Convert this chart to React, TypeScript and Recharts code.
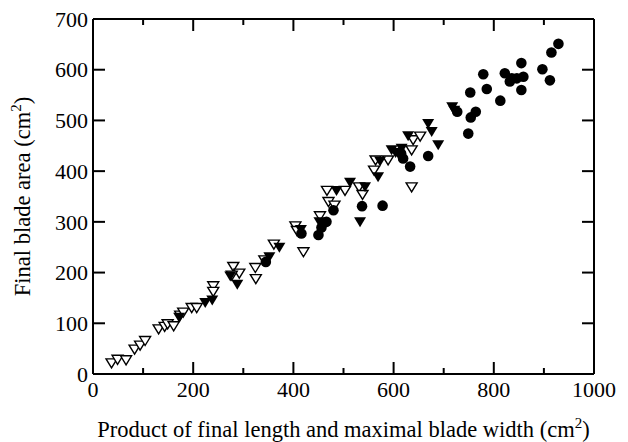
import React from "react";
import { ScatterChart, Scatter, XAxis, YAxis, Label } from "recharts";

// [product of length x max width, final blade area]
const openTriangles = [
  [37, 22], [49, 29], [66, 28], [83, 49], [94, 57], [104, 66], [131, 89],
  [143, 94], [149, 99], [161, 95], [174, 116], [180, 122], [197, 131],
  [207, 131], [240, 174], [240, 163], [280, 212], [292, 199], [277, 195],
  [324, 210], [325, 188], [342, 225], [361, 256], [404, 292], [407, 283],
  [420, 241], [453, 312], [467, 362], [470, 340], [482, 333], [503, 362],
  [531, 369], [538, 354], [564, 422], [561, 402], [589, 422], [636, 442],
  [639, 462], [653, 469], [636, 369],
];

const filledTriangles = [
  [172, 112], [224, 141], [238, 146], [274, 193], [288, 177], [352, 231],
  [372, 250], [415, 285], [452, 300], [486, 362], [513, 378], [543, 369],
  [533, 300], [569, 389], [573, 420], [596, 442], [604, 437], [610, 435],
  [616, 445], [629, 470], [669, 494], [676, 478], [689, 452], [717, 527],
  [721, 520],
];

const filledCircles = [
  [345, 221], [416, 277], [450, 274], [456, 289], [466, 300], [480, 323],
  [537, 331], [578, 332], [615, 435], [619, 425], [633, 409], [669, 430],
  [727, 517], [749, 474], [754, 506], [764, 517], [753, 555], [779, 591],
  [786, 562], [813, 539], [822, 593], [832, 577], [836, 583], [846, 583],
  [859, 586], [855, 613], [855, 560], [897, 601], [912, 579], [915, 634],
  [929, 651],
];

const xTicks = [0, 100, 200, 300, 400, 500, 600, 700, 800, 900, 1000];
const yTicks = [0, 100, 200, 300, 400, 500, 600, 700];

const toPoints = (arr: number[][]) => arr.map(([x, y]) => ({ x, y }));

const FONT = "'Liberation Serif', 'Times New Roman', serif";
const TICK_FONT = 22;
const TITLE_FONT = 22.5;

const OpenTri = (props: any) => {
  const { cx, cy } = props;
  return (
    <polygon
      points={`${cx - 5.5},${cy - 4} ${cx + 5.5},${cy - 4} ${cx},${cy + 5}`}
      fill="#fff"
      stroke="#000"
      strokeWidth={1.4}
    />
  );
};

const FilledTri = (props: any) => {
  const { cx, cy } = props;
  return (
    <polygon
      points={`${cx - 6},${cy - 4.5} ${cx + 6},${cy - 4.5} ${cx},${cy + 5.5}`}
      fill="#000"
    />
  );
};

const Dot = (props: any) => {
  const { cx, cy } = props;
  return <circle cx={cx} cy={cy} r={5.3} fill="#000" />;
};

const BottomTick = (props: any) => {
  const { x, y, payload } = props;
  const major = payload.value % 200 === 0;
  return (
    <g>
      <line x1={x} x2={x} y1={y} y2={y - (major ? 12 : 6)} stroke="#000" strokeWidth={2} />
      {major && (
        <text x={x} y={y + 23} textAnchor="middle" fontSize={TICK_FONT} fontFamily={FONT} fill="#000">
          {payload.value}
        </text>
      )}
    </g>
  );
};

const TopTick = (props: any) => {
  const { x, y, payload } = props;
  const major = payload.value % 200 === 0;
  return <line x1={x} x2={x} y1={y} y2={y + (major ? 12 : 6)} stroke="#000" strokeWidth={2} />;
};

const LeftTick = (props: any) => {
  const { x, y, payload } = props;
  return (
    <g>
      <line x1={x} x2={x + 12} y1={y} y2={y} stroke="#000" strokeWidth={2} />
      <text x={x - 5} y={y} dy="0.35em" textAnchor="end" fontSize={TICK_FONT} fontFamily={FONT} fill="#000">
        {payload.value}
      </text>
    </g>
  );
};

const RightTick = (props: any) => {
  const { x, y } = props;
  return <line x1={x} x2={x - 12} y1={y} y2={y} stroke="#000" strokeWidth={2} />;
};

const XTitle = ({ viewBox }: any) => (
  <text
    x={viewBox.x + viewBox.width / 2}
    y={viewBox.y + 63}
    textAnchor="middle"
    fontSize={TITLE_FONT}
    fontFamily={FONT}
    fill="#000"
  >
    Product of final length and maximal blade width (cm
    <tspan dy={-9} fontSize={15}>2</tspan>
    <tspan dy={9}>)</tspan>
  </text>
);

const YTitle = ({ viewBox }: any) => {
  const cx = 22;
  const cy = viewBox.y + viewBox.height / 2;
  return (
    <text
      x={cx}
      y={cy}
      transform={`rotate(-90, ${cx}, ${cy})`}
      textAnchor="middle"
      dy="0.35em"
      fontSize={TITLE_FONT}
      fontFamily={FONT}
      fill="#000"
    >
      Final blade area (cm
      <tspan dy={-9} fontSize={15}>2</tspan>
      <tspan dy={9}>)</tspan>
    </text>
  );
};

export default function App() {
  const axisLine = { stroke: "#000", strokeWidth: 2 };
  return (
    <div style={{ position: "absolute", left: 0, top: 0, width: 628, height: 442, background: "#fff" }}>
      <ScatterChart width={628} height={442} margin={{ top: 18, right: 33, bottom: 0, left: 0 }}>
        <XAxis
          dataKey="x"
          type="number"
          domain={[0, 1000]}
          ticks={xTicks}
          interval={0}
          height={68}
          tickSize={0}
          tickMargin={0}
          tickLine={false}
          axisLine={axisLine}
          tick={<BottomTick />}
        >
          <Label content={<XTitle />} />
        </XAxis>
        <XAxis
          xAxisId="top"
          dataKey="x"
          orientation="top"
          type="number"
          domain={[0, 1000]}
          ticks={xTicks}
          interval={0}
          height={1}
          tickSize={0}
          tickMargin={0}
          tickLine={false}
          axisLine={axisLine}
          tick={<TopTick />}
        />
        <YAxis
          dataKey="y"
          type="number"
          domain={[0, 700]}
          ticks={yTicks}
          interval={0}
          width={93}
          tickSize={0}
          tickMargin={0}
          tickLine={false}
          axisLine={axisLine}
          tick={<LeftTick />}
        >
          <Label content={<YTitle />} />
        </YAxis>
        <YAxis
          yAxisId="right"
          dataKey="y"
          orientation="right"
          type="number"
          domain={[0, 700]}
          ticks={yTicks}
          interval={0}
          width={1}
          tickSize={0}
          tickMargin={0}
          tickLine={false}
          axisLine={axisLine}
          tick={<RightTick />}
        />
        <Scatter data={toPoints(openTriangles)} shape={OpenTri} isAnimationActive={false} />
        <Scatter data={toPoints(filledTriangles)} shape={FilledTri} isAnimationActive={false} />
        <Scatter
          data={toPoints(filledCircles)}
          xAxisId="top"
          yAxisId="right"
          shape={Dot}
          isAnimationActive={false}
        />
      </ScatterChart>
    </div>
  );
}
